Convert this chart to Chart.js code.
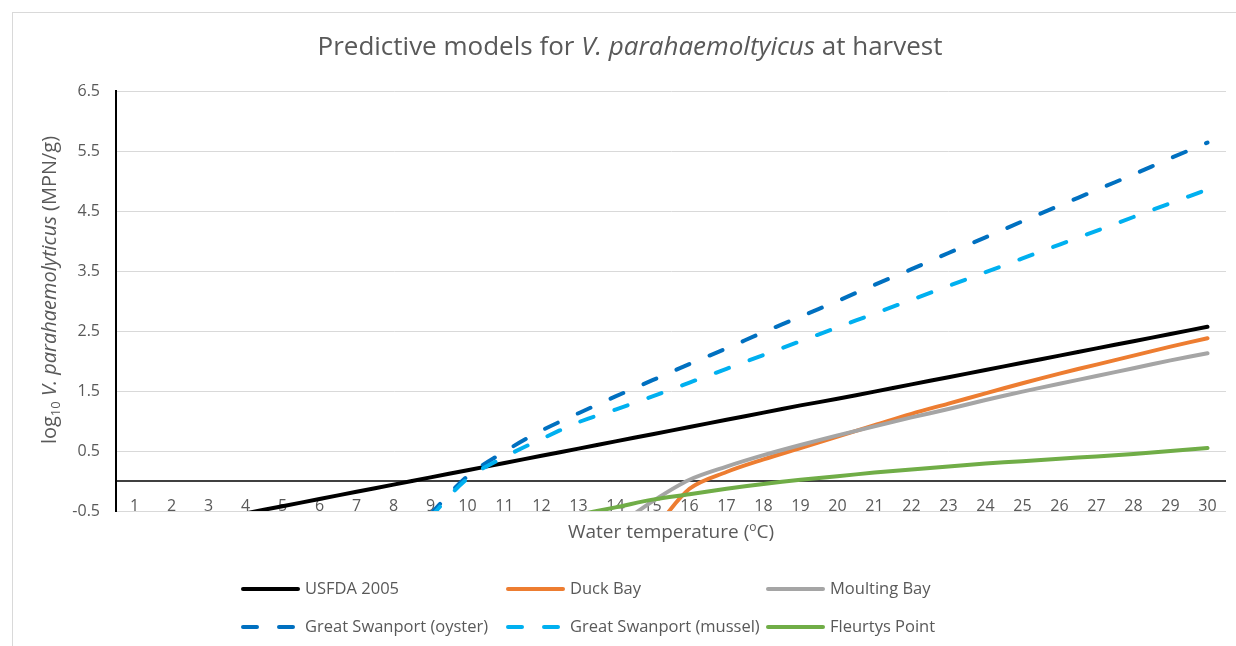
<!DOCTYPE html>
<html>
<head>
<meta charset="utf-8">
<script src="https://cdn.jsdelivr.net/npm/chart.js@4.4.1/dist/chart.umd.min.js"></script>
<style>
  html, body { margin: 0; padding: 0; background: #fff; overflow: hidden; }
  #wrap { position: relative; width: 1236px; height: 646px; }
</style>
</head>
<body>
<div id="wrap"><canvas id="vpChart"></canvas></div>
<script>
// --- data (water temperature 1..30 °C) ---
const categories = ['1','2','3','4','5','6','7','8','9','10','11','12','13','14','15',
                    '16','17','18','19','20','21','22','23','24','25','26','27','28','29','30'];
const yTicks = [-0.5, 0.5, 1.5, 2.5, 3.5, 4.5, 5.5, 6.5];

const usfda2005 = [-0.90, -0.78, -0.66, -0.54, -0.42, -0.30, -0.18, -0.06, 0.06, 0.18,
                   0.30, 0.42, 0.54, 0.66, 0.78, 0.90, 1.02, 1.14, 1.26, 1.37,
                   1.49, 1.61, 1.73, 1.85, 1.97, 2.09, 2.21, 2.33, 2.45, 2.57];
const duckBay = [null, null, null, null, null, null, null, null, null, null,
                 null, null, null, null, -0.86, -0.13, 0.15, 0.36, 0.55, 0.74,
                 0.93, 1.12, 1.29, 1.46, 1.63, 1.79, 1.94, 2.09, 2.24, 2.38];
const moultingBay = [null, null, null, null, null, null, null, null, null, null,
                     null, null, null, -0.77, -0.34, 0.02, 0.24, 0.43, 0.60, 0.76,
                     0.91, 1.06, 1.20, 1.35, 1.49, 1.62, 1.75, 1.88, 2.01, 2.13];
const swanportOyster = [null, null, null, null, null, null, null, null, -0.55, 0.08,
                        0.49, 0.84, 1.13, 1.41, 1.68, 1.95, 2.21, 2.48, 2.74, 3.00,
                        3.27, 3.53, 3.80, 4.06, 4.33, 4.59, 4.85, 5.11, 5.38, 5.64];
const swanportMussel = [null, null, null, null, null, null, null, null, -0.60, 0.04,
                        0.40, 0.70, 0.98, 1.19, 1.41, 1.64, 1.87, 2.10, 2.33, 2.56,
                        2.79, 3.02, 3.25, 3.48, 3.71, 3.94, 4.17, 4.40, 4.63, 4.86];
const fleurtysPoint = [null, null, null, null, null, null, null, null, null, null,
                       null, null, -0.56, -0.44, -0.31, -0.22, -0.13, -0.05, 0.02, 0.08,
                       0.14, 0.19, 0.24, 0.29, 0.33, 0.37, 0.41, 0.45, 0.50, 0.55];

const FONT = '"Open Sans", "DejaVu Sans", sans-serif';
const TEXT = '#595959';
const DASH = [14, 22];

function series(label, data, color, dashed, order) {
    return {
        label, data,
        borderColor: color,
        backgroundColor: color,
        borderWidth: 4,
        borderDash: dashed ? DASH : [],
        borderCapStyle: 'round',
        pointRadius: 0,
        tension: 0.33,
        clip: 0,
        order
    };
}

// draw a line of text made of parts (italic / subscript / superscript), centred on cx,cy
function drawRich(ctx, parts, cx, cy, size, vertical) {
    ctx.save();
    ctx.translate(cx, cy);
    if (vertical) ctx.rotate(-Math.PI / 2);
    const fontOf = p => (p.italic ? 'italic ' : '') + ((p.sub || p.sup) ? Math.round(size * 0.65) : size) + 'px ' + FONT;
    let total = 0;
    parts.forEach(p => { ctx.font = fontOf(p); p.w = ctx.measureText(p.t).width; total += p.w; });
    let x = -total / 2;
    ctx.textAlign = 'left';
    ctx.textBaseline = 'middle';
    ctx.fillStyle = TEXT;
    parts.forEach(p => {
        ctx.font = fontOf(p);
        const dy = p.sub ? size * 0.3 : (p.sup ? -size * 0.3 : 0);
        ctx.fillText(p.t, x, dy);
        x += p.w;
    });
    ctx.restore();
}

const overlay = {
    id: 'overlay',
    beforeDraw(chart) {
        const ctx = chart.ctx;
        ctx.save();
        ctx.strokeStyle = '#d9d9d9';
        ctx.lineWidth = 1;
        ctx.strokeRect(12.5, 12.5, 1300, 700);
        ctx.restore();
    },
    beforeDatasetsDraw(chart) {
        // horizontal axis crosses at 0
        const { ctx, chartArea } = chart;
        const y = chart.scales.y.getPixelForValue(0);
        ctx.save();
        ctx.strokeStyle = '#000';
        ctx.lineWidth = 1.5;
        ctx.beginPath();
        ctx.moveTo(chartArea.left, y);
        ctx.lineTo(chartArea.right, y);
        ctx.stroke();
        ctx.restore();
    },
    afterDraw(chart) {
        const ctx = chart.ctx;
        drawRich(ctx, [{ t: 'Predictive models for ' }, { t: 'V. parahaemoltyicus', italic: true }, { t: ' at harvest' }],
                 630, 48, 26, false);
        drawRich(ctx, [{ t: 'log' }, { t: '10', sub: true }, { t: ' V. parahaemolyticus', italic: true }, { t: ' (MPN/g)' }],
                 50, 290, 20, true);
        drawRich(ctx, [{ t: 'Water temperature (' }, { t: 'o', sup: true }, { t: 'C)' }],
                 671, 533, 19, false);

        // legend, 3 columns x 2 rows
        const cols = [240, 505, 765], rows = [589, 627];
        chart.data.datasets.forEach((ds, i) => {
            const x0 = cols[i % 3], y = rows[Math.floor(i / 3)];
            ctx.save();
            ctx.strokeStyle = ds.borderColor;
            ctx.lineWidth = 4;
            ctx.lineCap = 'round';
            ctx.setLineDash(ds.borderDash);
            ctx.beginPath();
            ctx.moveTo(x0 + 3, y);
            ctx.lineTo(x0 + 58, y);
            ctx.stroke();
            ctx.setLineDash([]);
            ctx.font = '16.5px ' + FONT;
            ctx.fillStyle = TEXT;
            ctx.textAlign = 'left';
            ctx.textBaseline = 'middle';
            ctx.fillText(ds.label, x0 + 65, y);
            ctx.restore();
        });
    }
};

new Chart(document.getElementById('vpChart'), {
    type: 'line',
    data: {
        labels: categories,
        datasets: [
            series('USFDA 2005', usfda2005, '#000000', false, 6),
            series('Duck Bay', duckBay, '#ED7D31', false, 5),
            series('Moulting Bay', moultingBay, '#A5A5A5', false, 4),
            series('Great Swanport (oyster)', swanportOyster, '#0070C0', true, 3),
            series('Great Swanport (mussel)', swanportMussel, '#00B0F0', true, 2),
            series('Fleurtys Point', fleurtysPoint, '#70AD47', false, 1)
        ]
    },
    options: {
        responsive: true,
        maintainAspectRatio: false,
        animation: false,
        layout: { padding: { left: 0, top: 91, right: 10, bottom: 135 } },
        elements: { line: { capBezierPoints: false } },
        plugins: { legend: { display: false }, tooltip: { enabled: false }, title: { display: false } },
        scales: {
            x: {
                offset: true,
                grid: { display: false, drawTicks: false },
                border: { display: false },
                // labels sit just inside the plot, on the bottom gridline, as in the original
                ticks: { color: TEXT, font: { family: FONT, size: 16 }, mirror: true, padding: -5, maxRotation: 0, autoSkip: false },
                afterFit: s => { s.height = 0; }
            },
            y: {
                min: yTicks[0],
                max: yTicks[yTicks.length - 1],
                afterBuildTicks: s => { s.ticks = yTicks.map(v => ({ value: v })); },
                grid: { color: '#d9d9d9', lineWidth: 1, drawTicks: false },
                border: { display: true, color: '#000', width: 2 },
                ticks: { color: TEXT, font: { family: FONT, size: 16 }, padding: 16, callback: v => v.toFixed(1) },
                afterFit: s => { s.width = 116; }
            }
        }
    },
    plugins: [overlay]
});
</script>
</body>
</html>
